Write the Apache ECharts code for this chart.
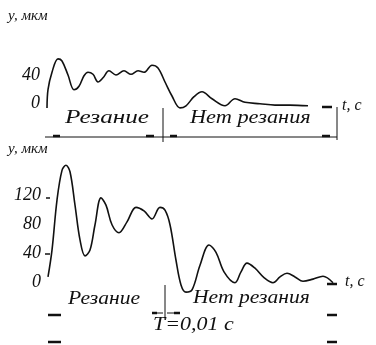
<!DOCTYPE html>
<html>
<head>
<meta charset="utf-8">
<script src="https://cdn.jsdelivr.net/npm/echarts@6/dist/echarts.min.js"></script>
<style>
  html, body { margin: 0; padding: 0; background: #fff; }
  #chart { width: 376px; height: 345px; }
</style>
</head>
<body>
<div id="chart"></div>
<script>
// top trace: time (arb. units) and y, мкм
const topTime = [0, 1, 5, 11, 15, 21, 27, 32, 37, 41, 46, 51, 56, 62, 69, 77, 84, 91, 97, 105, 111, 118, 125, 133, 139, 147, 155, 165, 178, 188, 198, 213, 228, 243, 261]
const topY = [-7, 19, 44, 63, 60, 40, 19, 24, 39, 44, 41, 30, 36, 46, 40, 46, 41, 46, 44, 54, 50, 30, 10, -7, -4, 9, 16, 6, -4, 6, 1, -1, -3, -3, -4]

// bottom trace
const botTime = [0, 4, 9, 14, 18, 22, 27, 32, 37, 42, 47, 53, 58, 64, 71, 79, 88, 96, 104, 112, 117, 122, 128, 133, 138, 144, 152, 161, 168, 176, 187, 193, 199, 207, 216, 225, 232, 239, 247, 255, 265, 275, 285]
const botY = [7, 44, 113, 154, 161, 152, 106, 58, 36, 44, 79, 116, 106, 79, 68, 83, 103, 98, 87, 103, 99, 79, 30, -4, -14, -11, 23, 51, 41, 14, -1, 14, 26, 19, 6, -1, 7, 12, 7, 1, 4, 8, -1]

const topTicks = [0, 40]
const botTicks = [0, 40, 80, 120]

const chart = echarts.init(document.getElementById('chart'))

const serif = '"Liberation Serif", "DejaVu Serif", serif'
const ink = '#111'

function txt(x, y, text, size, sx) {
  return {
    type: 'text', left: x, top: y, scaleX: sx || 1,
    style: { text: text, fontFamily: serif, fontStyle: 'italic', fontSize: size, fill: ink }
  }
}
function ln(x1, y1, x2, y2, w) {
  return { type: 'line', shape: { x1, y1, x2, y2 }, style: { stroke: ink, lineWidth: w || 1 } }
}

const option = {
  animation: false,
  grid: [
    { left: 47, top: 47, width: 290, height: 84 },
    { left: 48, top: 137, width: 290, height: 174 }
  ],
  xAxis: [0, 1].map(i => ({
    gridIndex: i, type: 'value', min: 0, max: 290, show: false
  })),
  yAxis: [
    { gridIndex: 0, ticks: topTicks, min: -40, max: 80 },
    { gridIndex: 1, ticks: botTicks, min: -40, max: 200 }
  ].map(a => ({
    gridIndex: a.gridIndex, type: 'value', min: a.min, max: a.max, interval: 40,
    axisLine: { show: false }, axisTick: { show: false }, splitLine: { show: false },
    axisLabel: {
      margin: 7, color: ink, fontFamily: serif, fontStyle: 'italic', fontSize: 18,
      formatter: v => a.ticks.includes(v) ? String(v) : ''
    }
  })),
  series: [
    {
      type: 'line', xAxisIndex: 0, yAxisIndex: 0, smooth: 0.35, symbol: 'none', clip: false,
      lineStyle: { color: ink, width: 1.6 },
      data: topTime.map((t, i) => [t, topY[i]])
    },
    {
      type: 'line', xAxisIndex: 1, yAxisIndex: 1, smooth: 0.35, symbol: 'none', clip: false,
      lineStyle: { color: ink, width: 1.6 },
      data: botTime.map((t, i) => [t, botY[i]])
    }
  ],
  graphic: [
    // top panel annotations
    txt(8, 9, 'у, мкм', 15),
    ln(322, 107, 332, 107, 2.5),
    txt(342, 98, 't, с', 16),
    txt(65, 109, 'Резание', 18, 1.4),
    txt(190, 109, 'Нет резания', 18, 1.24),
    ln(45, 137, 337, 137, 1),
    ln(163, 108, 163, 142, 1),
    ln(337, 107, 337, 140, 1),
    ln(53, 136, 60, 136, 2.5),
    ln(146, 136, 154, 136, 2.5),
    ln(170, 136, 177, 136, 2.5),
    ln(322, 136, 330, 136, 2.5),
    // bottom panel annotations
    txt(8, 142, 'у, мкм', 15),
    ln(327, 284, 337, 284, 2.5),
    txt(345, 274, 't, с', 16),
    txt(68, 290, 'Резание', 18, 1.2),
    txt(193, 289, 'Нет резания', 18, 1.2),
    txt(153, 316, 'T=0,01 с', 18, 1.22),
    ln(165, 285, 165, 320, 1),
    ln(152, 313, 163, 313, 1),
    ln(167, 313, 180, 313, 1),
    ln(152, 313, 157, 313, 2.5),
    ln(174, 313, 180, 313, 2.5),
    ln(48, 315, 61, 315, 2.5),
    ln(48, 342, 61, 342, 2.5),
    ln(327, 315, 337, 315, 2.5),
    ln(327, 342, 337, 342, 2.5),
    ln(46, 198, 50, 198, 1.5),
    ln(45, 254, 50, 254, 1.5)
  ]
}

chart.setOption(option)
</script>
</body>
</html>
